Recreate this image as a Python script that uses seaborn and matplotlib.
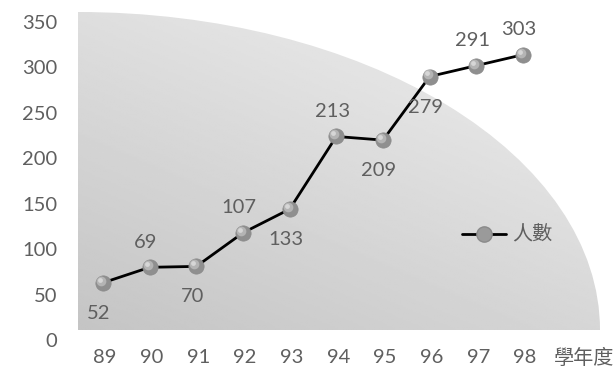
import numpy as np
import pandas as pd
import matplotlib
matplotlib.use('Agg')
import matplotlib.pyplot as plt
import matplotlib.transforms as mtransforms
from matplotlib.patches import Ellipse
from matplotlib.lines import Line2D
import seaborn as sns

# data
years = ['89', '90', '91', '92', '93', '94', '95', '96', '97', '98']
students = [52, 69, 70, 107, 133, 213, 209, 279, 291, 303]
label_side = ['below', 'above', 'below', 'above', 'below',
              'above', 'below', 'below', 'above', 'above']
yticks = [0, 50, 100, 150, 200, 250, 300, 350]

sns.set_theme(style='white')
plt.rcParams['font.family'] = ['Lato', 'Noto Sans CJK TC', 'DejaVu Sans']
text_color = '#5f5f5f'
fs = 14.5

df = pd.DataFrame({'year': years, 'students': students})
df['pos'] = np.arange(len(years))

W, H = 614, 370
fig = plt.figure(figsize=(W / 100, H / 100), dpi=100)
ax = fig.add_axes([78 / W, 1 - 330 / H, 522 / W, 318 / H])

step = 420 / 9
xmin = -25 / step
ax.set_xlim(xmin, xmin + 522 / step)
ax.set_ylim(0, 350)

# quarter-ellipse background with gradient
yy, xx = np.mgrid[0:1:200j, 0:1:200j]
grad = 0.77 + 0.10 * yy + 0.07 * xx
img = ax.imshow(grad, extent=[0, 1, 0, 1], origin='lower', cmap='gray',
                vmin=0, vmax=1, transform=ax.transAxes, aspect='auto', zorder=0)
clip = Ellipse((0, 0), 2, 2, transform=ax.transAxes, facecolor='none', edgecolor='none')
ax.add_patch(clip)
img.set_clip_path(clip)

sns.lineplot(data=df, x='pos', y='students', ax=ax, color='black', linewidth=2,
             marker='o', markersize=11, markerfacecolor='#8f8f8f',
             markeredgecolor='#8a8a8a', markeredgewidth=0.5, zorder=3)
# sphere highlight
hl = mtransforms.offset_copy(ax.transData, fig=fig, x=-1.5, y=1.5, units='points')
ax.plot(df['pos'], df['students'], 'o', markersize=7, color='#b4b4b4',
        markeredgewidth=0, transform=hl, zorder=4)
hl2 = mtransforms.offset_copy(ax.transData, fig=fig, x=-2.2, y=2.2, units='points')
ax.plot(df['pos'], df['students'], 'o', markersize=3.5, color='#d6d6d6',
        markeredgewidth=0, transform=hl2, zorder=5)

for x, v, side in zip(df['pos'], students, label_side):
    dy = 18 if side == 'above' else -22
    ax.annotate(str(v), (x, v), textcoords='offset points', xytext=(-3, dy),
                ha='center', va='center', fontsize=fs, color=text_color)

ax.set_xticks(df['pos'])
ax.set_xticklabels(years)
ax.set_yticks(yticks)
ax.tick_params(axis='both', length=0, labelsize=fs, labelcolor=text_color)
ax.tick_params(axis='y', pad=15)
ax.tick_params(axis='x', pad=14)
shift = mtransforms.ScaledTranslation(0, -10 / 100, fig.dpi_scale_trans)
for lab in ax.get_yticklabels():
    lab.set_transform(lab.get_transform() + shift)
xshift = mtransforms.ScaledTranslation(2 / 100, 0, fig.dpi_scale_trans)
for lab in ax.get_xticklabels():
    lab.set_transform(lab.get_transform() + xshift)
ax.set_xlabel('')
ax.set_ylabel('')
for s in ax.spines.values():
    s.set_visible(False)
ax.set_facecolor('none')

fig.text(584 / W, 1 - 357 / H, '學年度', ha='center', va='center',
         fontsize=fs, color=text_color)

handle = Line2D([0], [0], color='black', linewidth=2, marker='o', markersize=11,
                markerfacecolor='#9a9a9a', markeredgecolor='#8a8a8a')
leg = ax.legend([handle], ['人數'], loc='center left', bbox_to_anchor=(0.7, 0.3),
                frameon=False, fontsize=fs, handlelength=2.2, handletextpad=0.3)
for t in leg.get_texts():
    t.set_color(text_color)

fig.savefig('out.png', dpi=100)
